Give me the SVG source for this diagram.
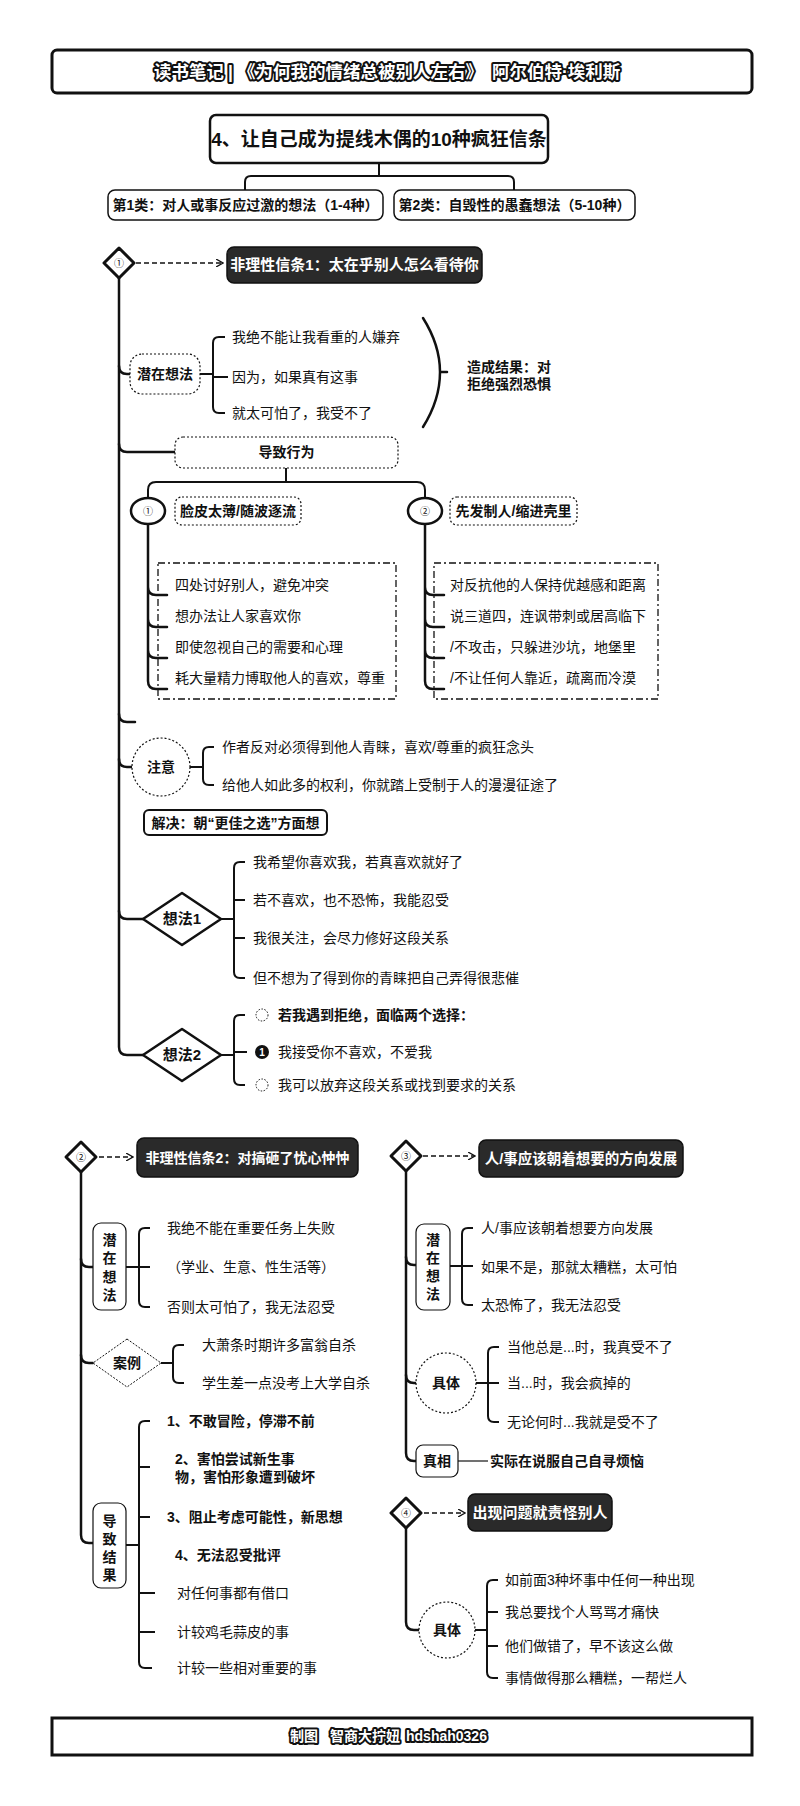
<svg xmlns="http://www.w3.org/2000/svg" width="800" height="1806" viewBox="0 0 800 1806">
<style>
.t{font-family:"Liberation Sans","Noto Sans CJK SC",sans-serif;font-size:14px;fill:#111}
.b{font-weight:bold}
.c{text-anchor:middle}
.w{fill:#fff}
.ol{fill:#fff;stroke:#111;stroke-width:4;stroke-linejoin:round;paint-order:stroke}
.h{font-size:15px}
.ln{fill:none;stroke:#111;stroke-width:2.5;stroke-linecap:round}
.br{fill:none;stroke:#111;stroke-width:2}
.thin{fill:none;stroke:#111;stroke-width:1.2}
.arr{fill:none;stroke:#111;stroke-width:1.5;stroke-dasharray:5 3;marker-end:url(#ah)}
.box{fill:#fff;stroke:#111;stroke-width:1.5}
.dot{fill:#fff;stroke:#111;stroke-width:1.2;stroke-dasharray:2 2}
.dd{fill:none;stroke:#111;stroke-width:1.3;stroke-dasharray:7 3 2 3}
.dark{fill:#2a2a2a;stroke:#111;stroke-width:1.5}
.dia{fill:#fff;stroke:#111;stroke-width:3;stroke-linejoin:round}
</style>
<defs>
<marker id="ah" markerWidth="8" markerHeight="8" refX="6" refY="4" orient="auto" markerUnits="userSpaceOnUse">
<path d="M0,0 L7,4 L0,8" fill="none" stroke="#111" stroke-width="1.3"/>
</marker>
</defs>
<rect width="800" height="1806" fill="#fff"/>

<g id="connectors">
<path class="br" d="M379,163 V176 M245,190 V182 Q245,176 251,176 H508 Q514,176 514,182 V190"/>
<path class="arr" d="M136,263 H222"/>
<path class="ln" d="M119,278 V1047 Q119,1055 127,1055 H143"/>
<path class="ln" d="M119,366 Q119,374 127,374 H130"/>
<path class="br" d="M200,374 H213 M225,337 H219 Q213,337 213,343 V407 Q213,413 219,413 H225 M213,377 H228"/>
<path class="ln" d="M423,318 Q440,345 440,372 Q440,400 423,427 M440,372 H447"/>
<path class="ln" d="M119,444 Q119,452 127,452 H175"/>
<path class="br" d="M286,468 V482 M148,498 V490 Q148,482 156,482 H417 Q425,482 425,490 V498"/>
<path class="ln" d="M148,524 V681 Q148,689 156,689 H167 M148,587 Q148,595 156,595 H167 M148,619 Q148,627 156,627 H167 M148,650 Q148,658 156,658 H167"/>
<path class="ln" d="M425,524 V681 Q425,689 433,689 H444 M425,587 Q425,595 433,595 H444 M425,619 Q425,627 433,627 H444 M425,650 Q425,658 433,658 H444"/>
<path class="ln" d="M119,714 Q119,722 127,722 H135"/>
<path class="ln" d="M119,759 Q119,767 127,767 H132"/>
<path class="br" d="M190,767 H203 M214,747 H209 Q203,747 203,753 V779 Q203,785 209,785 H214"/>
<path class="ln" d="M119,911 Q119,919 127,919 H143"/>
<path class="br" d="M221,919 H234 M245,862 H240 Q234,862 234,868 V972 Q234,978 240,978 H245 M234,900 H245 M234,938 H245"/>
<path class="br" d="M221,1055 H234 M245,1015 H240 Q234,1015 234,1021 V1079 Q234,1085 240,1085 H245 M234,1052 H247"/>
<path class="arr" d="M99,1157 H132"/>
<path class="ln" d="M81,1172 V1535 Q81,1543 89,1543 H93"/>
<path class="ln" d="M81,1259 Q81,1267 89,1267 H93"/>
<path class="br" d="M126,1267 H139 M150,1228 H145 Q139,1228 139,1234 V1301 Q139,1307 145,1307 H150 M139,1267 H150"/>
<path class="ln" d="M81,1355 Q81,1363 89,1363 H93"/>
<path class="br" d="M161,1363 H173 M184,1345 H179 Q173,1345 173,1351 V1377 Q173,1383 179,1383 H184"/>
<path class="br" d="M126,1545 H139 M150,1421 H145 Q139,1421 139,1427 V1662 Q139,1668 145,1668 H152 M139,1467 H150 M139,1517 H150 M139,1593 H155 M139,1632 H155"/>
<path class="arr" d="M423,1156 H474"/>
<path class="ln" d="M406,1171 V1453 Q406,1461 414,1461 H416"/>
<path class="ln" d="M406,1257 Q406,1265 414,1265 H416"/>
<path class="br" d="M450,1266 H462 M473,1228 H468 Q462,1228 462,1234 V1299 Q462,1305 468,1305 H473 M462,1266 H473"/>
<path class="ln" d="M406,1375 Q406,1383 414,1383 H416"/>
<path class="br" d="M476,1383 H488 M499,1347 H494 Q488,1347 488,1353 V1416 Q488,1422 494,1422 H499 M488,1383 H499"/>
<path class="thin" d="M458,1461 H488"/>
<path class="arr" d="M424,1513 H464"/>
<path class="ln" d="M406,1528 V1622 Q406,1630 414,1630 H419"/>
<path class="br" d="M475,1630 H487 M498,1580 H493 Q487,1580 487,1586 V1672 Q487,1678 493,1678 H498 M487,1612 H498 M487,1646 H498"/>
</g>

<g id="title">
<rect x="52" y="50" width="700" height="43" rx="5" fill="#fff" stroke="#111" stroke-width="3"/>
<text class="t b ol" x="154" y="78" style="font-size:17.5px">读书笔记</text>
<text class="t b ol" x="228" y="78" style="font-size:17.5px">|</text>
<text class="t b ol" x="238" y="78" style="font-size:17.5px">《为何我的情绪总被别人左右》</text>
<text class="t b ol" x="492" y="78" style="font-size:17.5px">阿尔伯特·埃利斯</text>
</g>
<g id="topic">
<rect x="210" y="115" width="338" height="48" rx="6" fill="#fff" stroke="#111" stroke-width="2.5"/>
<text class="t b c" x="379" y="146" style="font-size:19px">4、让自己成为提线木偶的10种疯狂信条</text>
</g>
<g id="cat1">
<rect class="box" x="108" y="190" width="275" height="30" rx="7"/>
<text class="t b c" x="245.5" y="210">第1类：对人或事反应过激的想法（1-4种）</text>
</g>
<g id="cat2">
<rect class="box" x="394" y="190" width="241" height="30" rx="7"/>
<text class="t b c" x="514.5" y="210">第2类：自毁性的愚蠢想法（5-10种）</text>
</g>

<g id="n1">
<polygon class="dia" points="119,248 134,263 119,278 104,263"/>
<text class="t c" x="119" y="267" style="font-size:10px">①</text>
</g>
<g id="belief1">
<rect class="dark" x="227" y="247" width="255" height="36" rx="7"/>
<text class="t b c w h" x="354.5" y="270">非理性信条1：太在乎别人怎么看待你</text>
</g>
<g id="latent1">
<rect class="dot" x="130" y="354" width="70" height="40" rx="12"/>
<text class="t b c" x="165" y="379">潜在想法</text>
</g>
<g id="latent1-items">
<text class="t" x="232" y="342">我绝不能让我看重的人嫌弃</text>
<text class="t" x="232" y="382">因为，如果真有这事</text>
<text class="t" x="232" y="418">就太可怕了，我受不了</text>
</g>
<g id="result1">
<text class="t b" x="467" y="372">造成结果：对</text>
<text class="t b" x="467" y="389">拒绝强烈恐惧</text>
</g>
<g id="behavior">
<rect class="dot" x="175" y="437" width="223" height="31" rx="8"/>
<text class="t b c" x="286.5" y="457">导致行为</text>
</g>
<g id="b1">
<ellipse cx="148" cy="511" rx="17" ry="13" fill="#fff" stroke="#111" stroke-width="2.5"/>
<text class="t c" x="148" y="515" style="font-size:10px">①</text>
</g>
<g id="b1-label">
<rect class="dot" x="175" y="497" width="126" height="28" rx="7"/>
<text class="t b c" x="238" y="516">脸皮太薄/随波逐流</text>
</g>
<g id="b2">
<ellipse cx="425" cy="511" rx="17" ry="13" fill="#fff" stroke="#111" stroke-width="2.5"/>
<text class="t c" x="425" y="515" style="font-size:10px">②</text>
</g>
<g id="b2-label">
<rect class="dot" x="450" y="497" width="127" height="28" rx="7"/>
<text class="t b c" x="513.5" y="516">先发制人/缩进壳里</text>
</g>
<g id="b1-items">
<rect class="dd" x="158" y="563" width="238" height="136"/>
<text class="t" x="175" y="590">四处讨好别人，避免冲突</text>
<text class="t" x="175" y="621">想办法让人家喜欢你</text>
<text class="t" x="175" y="652">即使忽视自己的需要和心理</text>
<text class="t" x="175" y="683">耗大量精力博取他人的喜欢，尊重</text>
</g>
<g id="b2-items">
<rect class="dd" x="434" y="563" width="224" height="136"/>
<text class="t" x="450" y="590">对反抗他的人保持优越感和距离</text>
<text class="t" x="450" y="621">说三道四，连讽带刺或居高临下</text>
<text class="t" x="450" y="652">/不攻击，只躲进沙坑，地堡里</text>
<text class="t" x="450" y="683">/不让任何人靠近，疏离而冷漠</text>
</g>
<g id="note">
<circle class="dot" cx="161" cy="767" r="29"/>
<text class="t b c" x="161" y="772">注意</text>
</g>
<g id="note-items">
<text class="t" x="222" y="752">作者反对必须得到他人青睐，喜欢/尊重的疯狂念头</text>
<text class="t" x="222" y="790">给他人如此多的权利，你就踏上受制于人的漫漫征途了</text>
</g>
<g id="solve">
<rect x="144" y="810" width="183" height="25" rx="5" fill="#fff" stroke="#111" stroke-width="2"/>
<text class="t b c" x="235.5" y="828">解决：朝“更佳之选”方面想</text>
</g>
<g id="idea1">
<polygon points="182,893 221,919 182,945 143,919" fill="#fff" stroke="#111" stroke-width="2.5" stroke-linejoin="round"/>
<text class="t b c h" x="182" y="924">想法1</text>
</g>
<g id="idea1-items">
<text class="t" x="253" y="867">我希望你喜欢我，若真喜欢就好了</text>
<text class="t" x="253" y="905">若不喜欢，也不恐怖，我能忍受</text>
<text class="t" x="253" y="943">我很关注，会尽力修好这段关系</text>
<text class="t" x="253" y="983">但不想为了得到你的青睐把自己弄得很悲催</text>
</g>
<g id="idea2">
<polygon points="182,1029 221,1055 182,1081 143,1055" fill="#fff" stroke="#111" stroke-width="2.5" stroke-linejoin="round"/>
<text class="t b c h" x="182" y="1060">想法2</text>
</g>
<g id="idea2-items">
<circle cx="262" cy="1015" r="6" fill="none" stroke="#111" stroke-width="1" stroke-dasharray="1.5 1.5"/>
<text class="t b" x="278" y="1020">若我遇到拒绝，面临两个选择：</text>
<circle cx="262" cy="1052" r="7" fill="#111"/>
<text class="t b c w" x="262" y="1056" style="font-size:10px">1</text>
<text class="t" x="278" y="1057">我接受你不喜欢，不爱我</text>
<circle cx="262" cy="1085" r="6" fill="none" stroke="#111" stroke-width="1" stroke-dasharray="1.5 1.5"/>
<text class="t" x="278" y="1090">我可以放弃这段关系或找到要求的关系</text>
</g>

<g id="n2">
<polygon class="dia" points="81,1142 96,1157 81,1172 66,1157"/>
<text class="t c" x="81" y="1161" style="font-size:10px">②</text>
</g>
<g id="belief2">
<rect class="dark" x="137" y="1138" width="221" height="39" rx="7"/>
<text class="t b c w" x="247.5" y="1163">非理性信条2：对搞砸了忧心忡忡</text>
</g>
<g id="latent2">
<rect x="93" y="1223" width="33" height="87" rx="8" fill="#fff" stroke="#111" stroke-width="1.2"/>
<text class="t b c" x="109.5" y="1245">潜</text>
<text class="t b c" x="109.5" y="1263">在</text>
<text class="t b c" x="109.5" y="1282">想</text>
<text class="t b c" x="109.5" y="1300">法</text>
</g>
<g id="latent2-items">
<text class="t" x="167" y="1233">我绝不能在重要任务上失败</text>
<text class="t" x="167" y="1272">（学业、生意、性生活等）</text>
<text class="t" x="167" y="1312">否则太可怕了，我无法忍受</text>
</g>
<g id="case">
<polygon points="127,1339 161,1363 127,1387 93,1363" fill="#fff" stroke="#111" stroke-width="1" stroke-dasharray="2 1.5"/>
<text class="t b c" x="127" y="1368">案例</text>
</g>
<g id="case-items">
<text class="t" x="202" y="1350">大萧条时期许多富翁自杀</text>
<text class="t" x="202" y="1388">学生差一点没考上大学自杀</text>
</g>
<g id="outcome">
<rect x="93" y="1503" width="33" height="85" rx="8" fill="#fff" stroke="#111" stroke-width="1.2"/>
<text class="t b c" x="109.5" y="1526">导</text>
<text class="t b c" x="109.5" y="1544">致</text>
<text class="t b c" x="109.5" y="1562">结</text>
<text class="t b c" x="109.5" y="1580">果</text>
</g>
<g id="outcome-items">
<text class="t b" x="167" y="1426">1、不敢冒险，停滞不前</text>
<text class="t b" x="175" y="1464">2、害怕尝试新生事</text>
<text class="t b" x="175" y="1482">物，害怕形象遭到破坏</text>
<text class="t b" x="167" y="1522">3、阻止考虑可能性，新思想</text>
<text class="t b" x="175" y="1560">4、无法忍受批评</text>
<text class="t" x="177" y="1598">对任何事都有借口</text>
<text class="t" x="177" y="1637">计较鸡毛蒜皮的事</text>
<text class="t" x="177" y="1673">计较一些相对重要的事</text>
</g>

<g id="n3">
<polygon class="dia" points="406,1141 421,1156 406,1171 391,1156"/>
<text class="t c" x="406" y="1160" style="font-size:10px">③</text>
</g>
<g id="belief3">
<rect class="dark" x="479" y="1140" width="204" height="37" rx="7"/>
<text class="t b c w" x="581" y="1164" style="font-size:14.5px">人/事应该朝着想要的方向发展</text>
</g>
<g id="latent3">
<rect x="416" y="1224" width="34" height="86" rx="8" fill="#fff" stroke="#111" stroke-width="1.2"/>
<text class="t b c" x="433" y="1245">潜</text>
<text class="t b c" x="433" y="1263">在</text>
<text class="t b c" x="433" y="1281">想</text>
<text class="t b c" x="433" y="1299">法</text>
</g>
<g id="latent3-items">
<text class="t" x="481" y="1233">人/事应该朝着想要方向发展</text>
<text class="t" x="481" y="1272">如果不是，那就太糟糕，太可怕</text>
<text class="t" x="481" y="1310">太恐怖了，我无法忍受</text>
</g>
<g id="concrete3">
<circle class="dot" cx="446" cy="1383" r="30"/>
<text class="t b c" x="446" y="1388">具体</text>
</g>
<g id="concrete3-items">
<text class="t" x="507" y="1352">当他总是...时，我真受不了</text>
<text class="t" x="507" y="1388">当...时，我会疯掉的</text>
<text class="t" x="507" y="1427">无论何时...我就是受不了</text>
</g>
<g id="truth">
<rect x="416" y="1445" width="42" height="32" rx="7" fill="#fff" stroke="#111" stroke-width="1.2"/>
<text class="t b c" x="437" y="1466">真相</text>
</g>
<g id="truth-item">
<text class="t b" x="490" y="1466">实际在说服自己自寻烦恼</text>
</g>

<g id="n4">
<polygon class="dia" points="406,1498 421,1513 406,1528 391,1513"/>
<text class="t c" x="406" y="1517" style="font-size:10px">④</text>
</g>
<g id="belief4">
<rect class="dark" x="468" y="1494" width="144" height="37" rx="7"/>
<text class="t b c w h" x="540" y="1518">出现问题就责怪别人</text>
</g>
<g id="concrete4">
<circle class="dot" cx="447" cy="1630" r="28"/>
<text class="t b c" x="447" y="1635">具体</text>
</g>
<g id="concrete4-items">
<text class="t" x="505" y="1585">如前面3种坏事中任何一种出现</text>
<text class="t" x="505" y="1617">我总要找个人骂骂才痛快</text>
<text class="t" x="505" y="1651">他们做错了，早不该这么做</text>
<text class="t" x="505" y="1683">事情做得那么糟糕，一帮烂人</text>
</g>

<g id="footer">
<rect x="52" y="1718" width="700" height="37" fill="#fff" stroke="#111" stroke-width="3"/>
<text class="t b ol" x="290" y="1741" style="font-size:14px">制图</text>
<text class="t b ol" x="330" y="1741" style="font-size:14px">智商大拧妞</text>
<text class="t b ol" x="406" y="1741" style="font-size:14px">hdshah0326</text>
</g>
</svg>
